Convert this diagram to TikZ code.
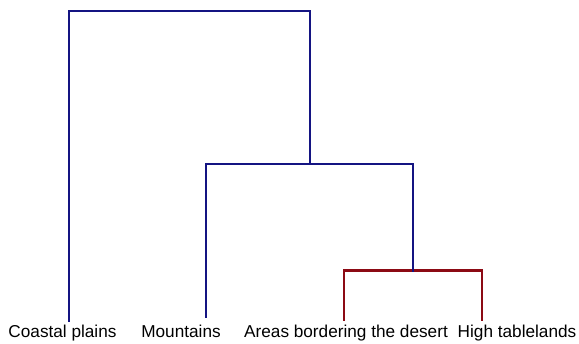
\documentclass[tikz,border=0pt]{standalone}
\usepackage{fontspec}
\setmainfont{Liberation Sans}
\definecolor{treeblue}{RGB}{20,20,130}
\definecolor{treered}{RGB}{140,10,20}
\begin{document}
\begin{tikzpicture}[x=1pt,y=-1pt,
  leaf/.style={anchor=base,inner sep=0pt,font=\fontsize{17.2}{20}\selectfont},
  upper/.style={draw=treeblue,line width=2.2pt,line cap=rect},
  lower/.style={draw=treered,line width=2.2pt,line cap=rect}]
  \useasboundingbox (0,0) rectangle (579,344);
  % leaf labels
  \node[leaf] (coast) at (62.5,337.5) {Coastal plains};
  \node[leaf] (mount) at (181,337.5) {Mountains};
  \node[leaf] (desert) at (346,337.5) {Areas bordering the desert};
  \node[leaf] (high) at (517,337.5) {High tablelands};
  % leaf stem ends
  \coordinate (cL) at (69,321);
  \coordinate (mL) at (206,316.5);
  \coordinate (dL) at (344,319.5);
  \coordinate (hL) at (482,319.5);
  % merge points
  \coordinate (dh) at (413,270.5);
  \coordinate (mdh) at (310,164);
  \coordinate (root) at (310,11);
  % desert + high tablelands
  \draw[lower] (dL) |- (dh) -| (hL);
  % mountains + (desert, tablelands)
  \draw[upper] (mL) |- (mdh) -| (dh);
  % coastal plains + rest
  \draw[upper] (cL) |- (root) -- (mdh);
\end{tikzpicture}
\end{document}
